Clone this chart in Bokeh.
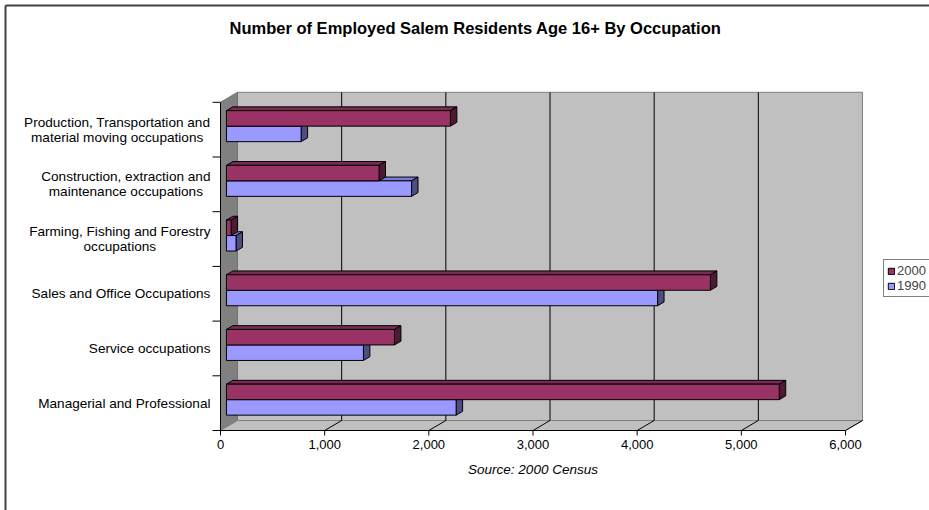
from bokeh.plotting import figure
from bokeh.models import Range1d, Legend, LegendItem, ColumnDataSource
from bokeh.core.properties import value
from bokeh.embed import file_html
from bokeh.resources import INLINE

# ---------------- data ----------------
categories = [
    "Managerial and Professional",
    "Service occupations",
    "Sales and Office Occupations",
    "Farming, Fishing and Forestry\noccupations",
    "Construction, extraction and\nmaintenance occupations",
    "Production, Transportation and\nmaterial moving occupations",
]
values_2000 = [5307, 1613, 4646, 45, 1465, 2150]
values_1990 = [2205, 1315, 4139, 92, 1777, 717]
series_names = ["2000", "1990"]
x_ticks = [0, 1000, 2000, 3000, 4000, 5000, 6000]
x_tick_labels = ["0", "1,000", "2,000", "3,000", "4,000", "5,000", "6,000"]
title_text = "Number of Employed Salem Residents Age 16+ By Occupation"
source_text = "Source: 2000 Census"

# ---------------- layout / style ----------------
W, H = 929, 510
X0_PX = 220          # pixel of value 0 on the front axis
AXIS_LEN_PX = 625    # pixel length of the value axis
XMAX = x_ticks[-1]
K = AXIS_LEN_PX / XMAX
Y0_PX = 430          # pixel (from top) of the front category baseline
BAND_PX = 54.7
NCAT = len(categories)
FONT = "Liberation Sans"


def px_x(px):
    return px / K


def px_y(px):
    return px / BAND_PX


DX = px_x(17)        # depth offset
DY = px_y(10)
F1, F2 = 0.35, 0.73  # bar depth fractions
BAR_H = px_y(15.5)

p = figure(width=W, height=H, output_backend="svg", toolbar_location=None,
           x_range=Range1d(-X0_PX / K, (W - X0_PX) / K),
           y_range=Range1d(-(H - Y0_PX) / BAND_PX, Y0_PX / BAND_PX),
           x_axis_location=None, y_axis_location=None, min_border=0)
p.outline_line_color = None
p.background_fill_color = "white"
p.border_fill_color = "white"
p.grid.grid_line_color = None

# outer chart border (top and left visible)
bx = px_x(5 - X0_PX)
by = px_y(Y0_PX - 5)
p.segment(x0=[bx, bx], y0=[by, by], x1=[px_x(W - X0_PX), bx], y1=[by, px_y(Y0_PX - H)],
          line_color="#404040", line_width=2)

# walls and floor
p.quad(left=[DX], right=[XMAX + DX], bottom=[DY], top=[NCAT + DY],
       fill_color="#C0C0C0", line_color="#808080", line_width=1)
p.patch(x=[0, 0, DX, DX], y=[0, NCAT, NCAT + DY, DY],
        fill_color="#808080", line_color="#707070", line_width=1)
p.patch(x=[0, XMAX, XMAX + DX, DX], y=[0, 0, DY, DY],
        fill_color="#C0C0C0", line_color="#808080", line_width=1)

# gridlines on back wall and floor
inner = x_ticks[1:-1]
p.segment(x0=[t + DX for t in inner], y0=[DY] * len(inner),
          x1=[t + DX for t in inner], y1=[NCAT + DY] * len(inner),
          line_color="black", line_width=1)
p.segment(x0=x_ticks[1:], y0=[0] * (len(x_ticks) - 1),
          x1=[t + DX for t in x_ticks[1:]], y1=[DY] * (len(x_ticks) - 1),
          line_color="black", line_width=1)

# axes (front plane)
p.segment(x0=[0], y0=[0], x1=[XMAX], y1=[0], line_color="black", line_width=1)
p.segment(x0=[0], y0=[0], x1=[0], y1=[NCAT], line_color="black", line_width=1)
p.segment(x0=x_ticks, y0=[0] * len(x_ticks), x1=x_ticks, y1=[-px_y(5)] * len(x_ticks),
          line_color="black", line_width=1)
bounds = list(range(NCAT + 1))
p.segment(x0=[-px_x(8)] * len(bounds), y0=bounds, x1=[0] * len(bounds), y1=bounds,
          line_color="black", line_width=1)

# 3D bars
ox, oy = F1 * DX, F1 * DY
ddx, ddy = (F2 - F1) * DX, (F2 - F1) * DY
colors = {
    "2000": ("#993366", "#7A2A55", "#4D1A33"),
    "1990": ("#9999FF", "#7C7CD6", "#4D4D80"),
}
front_renderers = {}
for name, vals in (("1990", values_1990), ("2000", values_2000)):
    front_c, top_c, side_c = colors[name]
    bottoms, tops = [], []
    for i in range(NCAT):
        c = i + 0.5 + oy
        if name == "2000":
            bottoms.append(c); tops.append(c + BAR_H)
        else:
            bottoms.append(c - BAR_H); tops.append(c)
    rights = [v + ox for v in vals]
    top_xs = [[ox, r, r + ddx, ox + ddx] for r in rights]
    top_ys = [[t, t, t + ddy, t + ddy] for t in tops]
    side_xs = [[r, r + ddx, r + ddx, r] for r in rights]
    side_ys = [[b, b + ddy, t + ddy, t] for b, t in zip(bottoms, tops)]
    p.patches(xs=top_xs, ys=top_ys, fill_color=top_c, line_color="black", line_width=1)
    p.patches(xs=side_xs, ys=side_ys, fill_color=side_c, line_color="black", line_width=1)
    src = ColumnDataSource(dict(left=[ox] * NCAT, right=rights, bottom=bottoms, top=tops))
    front_renderers[name] = p.quad(left="left", right="right", bottom="bottom", top="top",
                                   source=src, fill_color=front_c, line_color="black",
                                   line_width=1)

# category labels: block right-aligned, lines centred within block (Arial metrics)
ARIAL = {' ': 278, ',': 278, 'a': 556, 'b': 556, 'c': 500, 'd': 556, 'e': 556, 'f': 278,
         'g': 556, 'h': 556, 'i': 222, 'j': 222, 'k': 500, 'l': 222, 'm': 833, 'n': 556,
         'o': 556, 'p': 556, 'q': 556, 'r': 333, 's': 500, 't': 278, 'u': 556, 'v': 500,
         'w': 722, 'x': 500, 'y': 500, 'z': 500, 'C': 722, 'F': 611, 'M': 833, 'O': 778,
         'P': 667, 'S': 667, 'T': 611}
LABEL_SIZE = 13.6
LABEL_RIGHT_PX = 210


def text_w(s):
    return sum(ARIAL.get(ch, 556) for ch in s) / 1000 * LABEL_SIZE


lab_x, lab_y = [], []
for i, cat in enumerate(categories):
    maxw = max(text_w(line) for line in cat.split("\n"))
    lab_x.append(px_x(LABEL_RIGHT_PX - X0_PX - maxw / 2))
    lab_y.append(i + 0.5)
p.text(x=lab_x, y=lab_y, text=categories, text_align="center", text_baseline="middle",
       text_font=value(FONT), text_font_size=f"{LABEL_SIZE}px", text_color="black",
       text_line_height=1.0)

# value tick labels
p.text(x=x_ticks, y=[-px_y(14)] * len(x_ticks), text=x_tick_labels, text_align="center",
       text_baseline="middle", text_font=value(FONT), text_font_size="13px", text_color="black")

# source note
p.text(x=[XMAX / 2], y=[-px_y(39)], text=[source_text], text_align="center",
       text_baseline="middle", text_font=value(FONT), text_font_size="13.5px",
       text_font_style="italic", text_color="black")

# title
p.text(x=[px_x(475 - X0_PX)], y=[px_y(Y0_PX - 27)], text=[title_text], text_align="center",
       text_baseline="middle", text_font=value(FONT), text_font_size="16.5px",
       text_font_style="bold", text_color="black")

# legend
legend = Legend(items=[LegendItem(label=series_names[0], renderers=[front_renderers["2000"]]),
                       LegendItem(label=series_names[1], renderers=[front_renderers["1990"]])],
                location=(883, H - 297))
legend.glyph_width = 8
legend.glyph_height = 8
legend.label_height = 12
legend.label_width = 20
legend.label_standoff = 2
legend.spacing = 0
legend.padding = 3
legend.margin = 0
legend.label_text_font = FONT
legend.label_text_font_size = "13px"
legend.border_line_color = "black"
legend.border_line_width = 1
legend.background_fill_color = "white"
legend.background_fill_alpha = 1
p.add_layout(legend)

open("out.html", "w").write(file_html(p, INLINE))
